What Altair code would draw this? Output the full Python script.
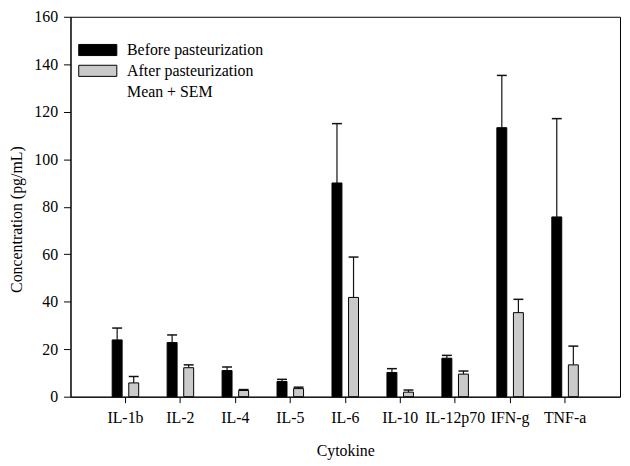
import altair as alt
import pandas as pd

cytokines = ["IL-1b", "IL-2", "IL-4", "IL-5", "IL-6", "IL-10", "IL-12p70", "IFN-g", "TNF-a"]
before_mean = [23.9, 22.8, 11.0, 6.4, 90.0, 10.2, 16.2, 113.3, 75.7]
before_sem = [5.0, 3.2, 1.5, 0.9, 25.0, 1.6, 1.2, 22.0, 41.4]
after_mean = [5.8, 12.2, 2.6, 3.4, 41.8, 1.9, 9.5, 35.4, 13.4]
after_sem = [2.7, 1.2, 0.4, 0.6, 17.0, 0.9, 1.3, 5.6, 7.9]
groups = ["Before pasteurization", "After pasteurization"]
legend_note = "Mean + SEM"
y_ticks = [0, 20, 40, 60, 80, 100, 120, 140, 160]

rows = []
for i, c in enumerate(cytokines):
    rows.append(dict(Cytokine=c, Group=groups[0], Mean=before_mean[i],
                     Upper=before_mean[i] + before_sem[i]))
    rows.append(dict(Cytokine=c, Group=groups[1], Mean=after_mean[i],
                     Upper=after_mean[i] + after_sem[i]))
df = pd.DataFrame(rows)

FONT = "Liberation Serif"
PLOT_H = 383

x = alt.X("Cytokine:N", sort=cytokines,
          scale=alt.Scale(paddingInner=0, paddingOuter=0.5),
          axis=alt.Axis(title="Cytokine", labelAngle=0, tickSize=6,
                        labelPadding=7, titlePadding=17))
xoff = alt.XOffset("Group:N", sort=groups,
                   scale=alt.Scale(paddingInner=0.4, paddingOuter=0.858))
yscale = alt.Scale(domain=[0, 160], nice=False)
yaxis = alt.Axis(values=y_ticks, tickSize=7, labelPadding=6, titlePadding=9,
                 titleY=204)
ytitle = "Concentration (pg/mL)"

legend_domain = groups + [legend_note]
leg = alt.Legend(orient="none", legendX=19, legendY=25, title=None,
                 symbolType="M-2.4,-0.7L2.4,-0.7L2.4,0.7L-2.4,0.7Z",
                 symbolSize=256, symbolStrokeWidth=1, labelOffset=21,
                 rowPadding=4, labelFont=FONT, labelFontSize=16,
                 labelColor="black", labelLimit=400)

bars = alt.Chart(df).mark_bar(strokeWidth=1).encode(
    x=x, xOffset=xoff,
    y=alt.Y("Mean:Q", scale=yscale, axis=yaxis, title=ytitle),
    color=alt.Color("Group:N", scale=alt.Scale(domain=legend_domain,
                    range=["black", "#cacaca", "transparent"]), legend=leg),
    stroke=alt.Stroke("Group:N", scale=alt.Scale(domain=legend_domain,
                      range=["black", "black", "transparent"]), legend=leg),
)

rules = alt.Chart(df).mark_rule(color="#111111", strokeWidth=1.2).encode(
    x=x, xOffset=xoff,
    y=alt.Y("Mean:Q", scale=yscale, axis=yaxis, title=ytitle),
    y2="Upper:Q",
)

caps = alt.Chart(df).mark_tick(color="#111111", thickness=1.5, size=10, opacity=1).encode(
    x=x, xOffset=xoff,
    y=alt.Y("Upper:Q", scale=yscale, axis=yaxis, title=ytitle),
)

chart = alt.layer(bars, rules, caps).properties(
    width=554, height=PLOT_H,
    autosize=alt.AutoSizeParams(type="none"),
    padding={"left": 63, "top": 7, "right": 2, "bottom": 63},
).configure(
    background="white"
).configure_view(
    stroke="black", strokeWidth=1
).configure_axis(
    labelFont=FONT, titleFont=FONT, labelFontSize=16, titleFontSize=16,
    titleFontWeight="normal", labelColor="black", titleColor="black",
    domainColor="black", tickColor="black", grid=False,
)

chart.save("out.html", embed_options={"renderer": "svg", "actions": False})
